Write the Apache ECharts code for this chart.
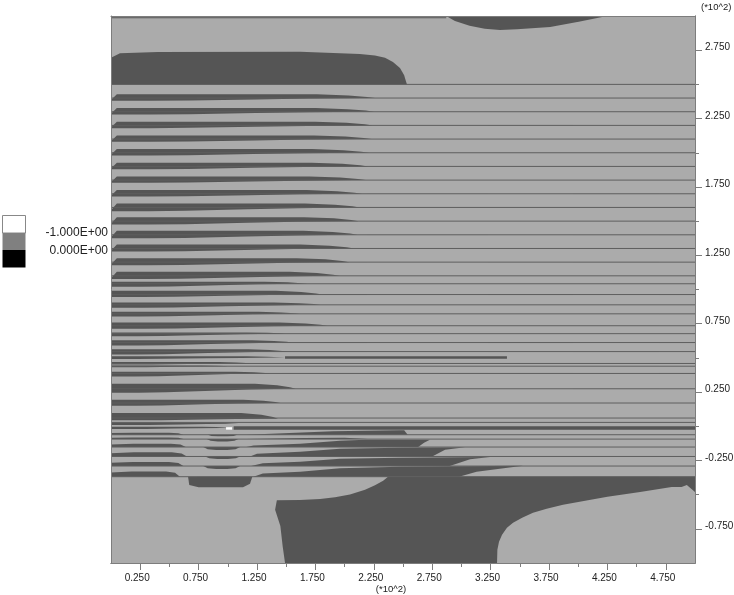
<!DOCTYPE html>
<html><head><meta charset="utf-8">
<style>html,body{margin:0;padding:0;background:#fff}#c{width:734px;height:595px}</style>
<script src="https://cdn.jsdelivr.net/npm/echarts@6/dist/echarts.min.js"></script>
</head><body><div id="c"></div>
<script>
// Tick values
const xMajor = [25,75,125,175,225,275,325,375,425,475];
const xMinor = [50,100,150,200,250,300,350,400,450];
const yMajor = [275,225,175,125,75,25,-25,-75];
const yMinor = [250,200,150,100,50,0,-50];
const legendLabels = ['-1.000E+00','0.000E+00'];

// Horizontal contour lines: y level
const lineLevels = [250,240,230,220,210,200,190,180,170,160,150,140,130,120,110,104.2,96.3,88.8,82.2,73.5,67.7,61.2,54.6,45.9,43.9,38.6,27.4,17,6,2.8,-6.2,-9.4,-15.2,-22.1,-29.1,-36.9];

// Tapered bands at the left: level, rise above, drop below, tip x
const rampBands = [
 [240,2.7,2.0,226],[230,2.7,2.0,225],[220,2.7,2.0,224],[210,2.7,2.0,223],[200,2.7,2.0,221],
 [190,2.7,2.0,220],[180,2.7,2.0,218],[170,2.7,2.0,215],[160,2.9,2.7,213],[150,2.9,2.5,212],
 [140,2.9,2.5,211],[130,2.9,2.3,208],[120,2.9,2.3,204],[110,2.9,2.3,196]
];
const flatBands = [
 [104.2,1.5,2.2,168],[96.3,2.7,1.7,181],[88.8,1.7,2.2,179],[82.2,1.5,1.9,162],[73.5,2.4,2.2,185],
 [67.7,0.9,1.9,149],[61.2,1.7,2.2,155],[54.6,1.7,2.2,151],[50.2,1,1,149],[45.9,1,0.8,119],
 [43.9,0.5,0.8,100],[38.6,1.2,2.2,136],[27.4,3.6,2.9,158],[17,2.4,2,145],[5.5,4.2,1.2,143],
 [1.8,0.7,0.9,109],[-1.3,1,0.7,100]
];
const topProfile = [[0.78,1],[0.9,0.7],[0.97,0.3],[1,0]];
const bottomProfile = [[0.95,0],[0.75,0.2],[0.55,0.5],[0.3,0.9],[0.15,1]];

// Domes sitting on a level at the lower left: level, height, tip x
const domes = [[-6.2,1.5,62],[-9.4,1.2,62],[-15.2,2.4,64],[-22.1,3,65],[-29.1,3,62],[-36.9,3.9,59]];
const domeProfile = [[0.8,1],[0.93,0.75],[1,0]];
// Lenses hanging from a level: level, depth, x start, x end
const lenses = [[-6.2,1.2,83,108],[-9.4,1.8,82,109],[-15.2,2.2,79,110.5],[-22.1,1.9,80.5,110.5],[-29.1,2.2,79,110.5]];

// Closed dark regions, in data coordinates
const topEdge = [[0,299],[287,299],[287,298.4],[0,298.4]];
const topBlob = [[0,250],[0,269.4],[7.7,272.7],[40,273.6],[162,273.8],[213,272.3],[226,271.2],[234.6,269.4],[241.4,266.4],[247.4,262],[250.9,256.9],[253.4,250]];
const topRightBlob = [[287,300],[294.5,296.4],[307,292.8],[320,290.6],[333,289.8],[347.6,290.4],[376,292],[401.5,295.9],[424.7,300]];
const midBar = [[149,51.2],[339,51.2],[339,49.4],[149,49.4]];
const zeroBar = [[105,0],[500,0],[500,-2.6],[105,-2.6]];
const wedge1 = [[116,-6.2],[190,-3.6],[247,-2.9],[251,-3],[254,-6.2]];
const wedge2 = [[116,-9.4],[165,-8.6],[200,-8.4],[220,-9.4]];
const wedge3 = [[116,-15.2],[122,-14],[162,-12.8],[196,-10.6],[218,-9.9],[273,-9.9],[268,-12],[263,-15.2]];
const wedge4 = [[119,-22.1],[125,-20.2],[162,-18.6],[196,-16.4],[247,-15.7],[303,-15.4],[286,-17.1],[275,-22.1]];
const wedge5 = [[120,-29.1],[130,-27],[162,-26],[196,-23.8],[247,-23],[324.5,-22.5],[307.4,-24.1],[290,-29.1]];
const wedge6 = [[122,-36.9],[130,-34.5],[162,-33.3],[196,-30.7],[247,-29.6],[352.7,-28.9],[313,-33.3],[298,-36.9]];
const trapezoid = [[66,-37],[67,-43],[75,-44.6],[113,-44.6],[119,-42],[121,-37]];
const lowerRegion = [[237.2,-37],[233,-39.9],[226,-43.2],[217.5,-46.5],[204.6,-49.9],[191.8,-52],[179,-53.2],[161.8,-53.9],[142,-54.1],[140.5,-61],[145,-73],[147,-88],[149,-100],[330.5,-100],[330.8,-90.3],[332.2,-84.5],[334.8,-79.3],[339,-74.2],[344.2,-70.5],[352,-66.9],[361.3,-63.2],[373,-60.3],[387,-57.4],[425,-51.5],[453,-48],[480,-44.5],[488.5,-44.5],[493,-43],[500,-48],[500,-37]];
const whiteSpot = [[98.5,-0.7],[103.6,-0.7],[103.6,-2.5],[98.5,-2.5]];
const fullField = [[0,300],[500,300],[500,-100],[0,-100]];

const LIGHT = '#ababab', DARK = '#555555', LINE = '#5e5e5e', FRAME = '#7d7d7d';

function bandPolygon(b, ramp) {
  const [lv, up, down, tip] = b, pts = [];
  if (ramp) { pts.push([0, lv - down * 0.75]); pts.push([5, lv + up]); }
  else { pts.push([0, lv + up]); }
  topProfile.forEach(p => pts.push([tip * p[0], lv + up * p[1]]));
  bottomProfile.forEach(p => pts.push([tip * p[0], lv - down * p[1]]));
  pts.push([0, lv - down]);
  return pts;
}
function domePolygon(d) {
  const [lv, h, tip] = d, pts = [[0, lv], [0, lv + h * 0.8], [tip * 0.3, lv + h]];
  domeProfile.forEach(p => pts.push([tip * p[0], lv + h * p[1]]));
  return pts;
}
function lensPolygon(l) {
  const [lv, depth, a, b] = l, w = b - a;
  return [[a, lv], [b, lv], [b - w * 0.12, lv - depth * 0.7], [b - w * 0.35, lv - depth], [a + w * 0.35, lv - depth], [a + w * 0.12, lv - depth * 0.7]];
}
const darkPolys = [topEdge, topBlob, topRightBlob, midBar, zeroBar, wedge1, wedge2, wedge3, wedge4, wedge5, wedge6, trapezoid, lowerRegion]
  .concat(rampBands.map(b => bandPolygon(b, true)))
  .concat(flatBands.map(b => bandPolygon(b, false)))
  .concat(domes.map(domePolygon))
  .concat(lenses.map(lensPolygon));

function polySeries(name, polys, color, z) {
  return {
    type: 'custom', name, coordinateSystem: 'cartesian2d', z, silent: true, clip: true,
    data: polys.map((p, i) => [p[0][0], p[0][1], i]),
    encode: { x: 0, y: 1 },
    renderItem: (params, api) => ({
      type: 'polygon',
      shape: { points: polys[params.dataIndex].map(q => api.coord(q)) },
      style: { fill: color }
    })
  };
}
const lineSeries = {
  type: 'custom', name: 'levels', coordinateSystem: 'cartesian2d', z: 4, silent: true, clip: true,
  data: lineLevels.map(v => [0, v]),
  encode: { x: 0, y: 1 },
  renderItem: (params, api) => {
    const v = api.value(1), a = api.coord([0, v]), b = api.coord([500, v]);
    return { type: 'line', shape: { x1: a[0], y1: a[1], x2: b[0], y2: b[1] }, style: { stroke: LINE, lineWidth: 1 } };
  }
};
const txt = { fontFamily: '"Liberation Sans", Arial, sans-serif', color: '#222', fontSize: 10 };
const baseX = { type: 'value', min: 0, max: 500, interval: 25, splitLine: { show: false }, z: 6 };
const baseY = { type: 'value', min: -100, max: 300, interval: 25, splitLine: { show: false }, z: 6 };
const axisLine = { show: true, onZero: false, lineStyle: { color: FRAME, width: 1 } };

const chart = echarts.init(document.getElementById('c'), null, { renderer: 'canvas' });
chart.setOption({
  animation: false,
  backgroundColor: '#fff',
  grid: { left: 111, right: 39, top: 16, bottom: 32, containLabel: false, outerBoundsMode: 'none' },
  xAxis: [
    { ...baseX, position: 'bottom', axisLine,
      axisTick: { show: true, length: 7, customValues: xMajor, lineStyle: { color: FRAME } },
      axisLabel: { show: true, customValues: xMajor, margin: 10, padding: [0, 6, 0, 0], ...txt, formatter: v => (v / 100).toFixed(3) },
      name: '(*10^2)', nameLocation: 'middle', nameGap: 21, nameMoveOverlap: false,
      nameTextStyle: { ...txt, fontSize: 9.5, padding: [0, 24, 0, 0] } },
    { ...baseX, position: 'bottom', axisLine,
      axisTick: { show: true, length: 4, customValues: xMinor, lineStyle: { color: FRAME } },
      axisLabel: { show: false } },
    { ...baseX, position: 'top', axisLine, axisTick: { show: false }, axisLabel: { show: false } }
  ],
  yAxis: [
    { ...baseY, position: 'right', axisLine,
      axisTick: { show: true, length: 7, customValues: yMajor, lineStyle: { color: FRAME } },
      axisLabel: { show: true, customValues: yMajor, margin: 10, verticalAlign: 'bottom', lineHeight: 5, ...txt, formatter: v => (v / 100).toFixed(3) },
      name: '(*10^2)', nameLocation: 'end', nameGap: 4,
      nameTextStyle: { ...txt, fontSize: 9.5, align: 'left', padding: [0, 0, 0, 6] } },
    { ...baseY, position: 'right', axisLine,
      axisTick: { show: true, length: 4, customValues: yMinor, lineStyle: { color: FRAME } },
      axisLabel: { show: false } },
    { ...baseY, position: 'left', axisLine, axisTick: { show: false }, axisLabel: { show: false } }
  ],
  series: [
    polySeries('field', [fullField], LIGHT, 1),
    polySeries('dark', darkPolys, DARK, 2),
    lineSeries,
    polySeries('white', [whiteSpot], '#ffffff', 5)
  ],
  graphic: [
    { type: 'rect', shape: { x: 2.5, y: 215.5, width: 23, height: 17.5 }, style: { fill: '#ffffff', stroke: '#888', lineWidth: 1 } },
    { type: 'rect', shape: { x: 2.5, y: 233, width: 23, height: 17 }, style: { fill: '#808080' } },
    { type: 'rect', shape: { x: 2.5, y: 250, width: 23, height: 17.5 }, style: { fill: '#000000' } },
    { type: 'text', x: 108, y: 233, style: { text: legendLabels[0], align: 'right', verticalAlign: 'middle', font: '12px "Liberation Sans", Arial, sans-serif', fill: '#222' } },
    { type: 'text', x: 108, y: 250.5, style: { text: legendLabels[1], align: 'right', verticalAlign: 'middle', font: '12px "Liberation Sans", Arial, sans-serif', fill: '#222' } }
  ]
});
</script></body></html>
